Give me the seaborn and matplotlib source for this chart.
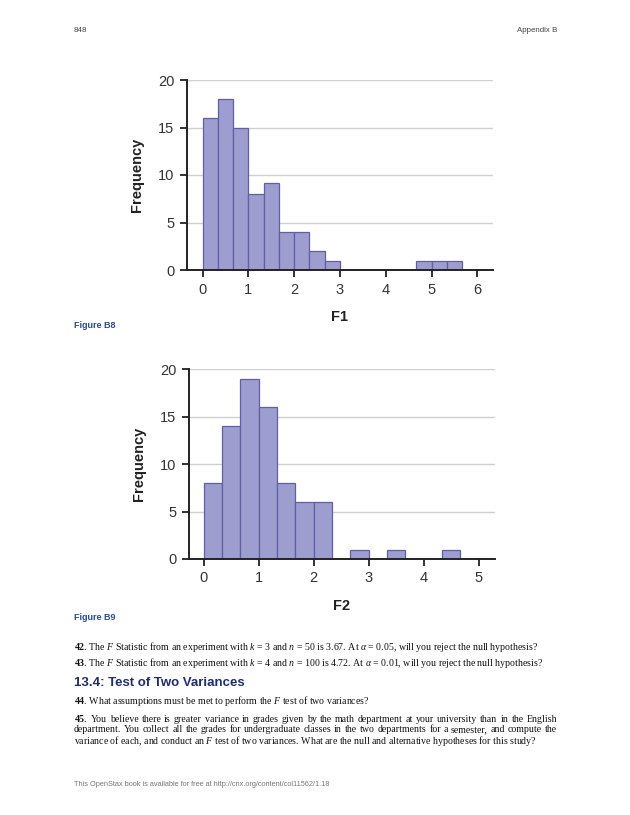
import numpy as np
import pandas as pd
import matplotlib
matplotlib.use("Agg")
import matplotlib.pyplot as plt
import seaborn as sns

# ---- data ----
bin_width = 1 / 3
f1_bin_starts = [0, 1/3, 2/3, 1, 4/3, 5/3, 2, 7/3, 8/3, 14/3, 5, 16/3]
f1_counts = [16, 18, 15, 8, 9.2, 4, 4, 2, 1, 1, 1, 1]
f2_bin_starts = [0, 1/3, 2/3, 1, 4/3, 5/3, 2, 8/3, 10/3, 13/3]
f2_counts = [8, 14, 19, 16, 8, 6, 6, 1, 1, 1]
y_ticks = [0, 5, 10, 15, 20]
f1_xticks = [0, 1, 2, 3, 4, 5, 6]
f2_xticks = [0, 1, 2, 3, 4, 5]

sns.set_theme(style="white")
plt.rcParams['font.family'] = ['Liberation Sans', 'DejaVu Sans']
plt.rcParams['mathtext.fontset'] = 'custom'
plt.rcParams['mathtext.rm'] = 'Liberation Serif'
plt.rcParams['mathtext.it'] = 'Liberation Serif:italic'
plt.rcParams['mathtext.bf'] = 'Liberation Serif:bold'

fig = plt.figure(figsize=(6.3, 8.15), dpi=100)
W, H = 630, 815

def px_axes(left, top, right, bottom):
    return fig.add_axes([left / W, 1 - bottom / H, (right - left) / W, (bottom - top) / H])

FILL = "#9d9dcf"
EDGE = "#5f5fa5"
TXT = "#333333"

def draw_hist(ax, starts, counts, xlim, xticks, xlabel):
    starts = np.asarray(starts, dtype=float)
    n_bins = int(round(max(starts) / bin_width)) + 1
    edges = [i * bin_width for i in range(n_bins + 1)]
    df = pd.DataFrame({"value": starts + bin_width / 2, "count": counts})
    sns.histplot(data=df, x="value", weights="count", bins=edges, ax=ax,
                 color=FILL, edgecolor=EDGE, linewidth=0.9, alpha=1, zorder=2)
    ax.set_xlim(*xlim)
    ax.set_ylim(0, 20)
    ax.set_yticks(y_ticks)
    ax.set_xticks(xticks)
    ax.yaxis.grid(True, color="#cfcfcf", linewidth=1.0, zorder=0)
    ax.set_axisbelow(True)
    for s in ["top", "right"]:
        ax.spines[s].set_visible(False)
    for s in ["left", "bottom"]:
        ax.spines[s].set_color("#222222")
        ax.spines[s].set_linewidth(1.4)
        ax.spines[s].set_zorder(3)
    ax.tick_params(axis="both", direction="out", length=5, width=1.3, color="#222222",
                   labelsize=10.5, labelcolor=TXT, pad=4, left=True, bottom=True)
    ax.set_ylabel("Frequency", fontsize=10.5, fontweight="bold", color="#222222", labelpad=10)
    ax.set_xlabel(xlabel, fontsize=10.5, fontweight="bold", color="#222222", labelpad=10)

ax1 = px_axes(187, 80, 493, 270)
draw_hist(ax1, f1_bin_starts, f1_counts, (-0.34, 6.34), f1_xticks, "F1")

ax2 = px_axes(189, 369, 495, 559)
draw_hist(ax2, f2_bin_starts, f2_counts, (-0.27, 5.3), f2_xticks, "F2")

def t(x, y, s, **kw):
    return fig.text(x / W, 1 - y / H, s, **kw)

renderer = fig.canvas.get_renderer()

def justify(x0, x1, y, words, **kw):
    objs = [t(x0, y, w, **kw) for w in words]
    widths = [o.get_window_extent(renderer).width for o in objs]
    gap = (x1 - x0 - sum(widths)) / (len(words) - 1)
    x = x0
    for o, wd in zip(objs, widths):
        o.set_x(x / W)
        x += wd + gap

t(74, 30, "848", fontsize=5.7, color="#444444", va="center")
t(557, 30, "Appendix B", fontsize=5.7, color="#444444", va="center", ha="right")
t(74, 326, "Figure B8", fontsize=6.5, color="#2b4a94", fontweight="bold", va="center")
t(74, 618, "Figure B9", fontsize=6.5, color="#2b4a94", fontweight="bold", va="center")

serif = dict(family="Liberation Serif", fontsize=7.1, color="#111111", va="baseline")
B = 2.5
t(74, 647 + B, r"$\mathbf{42}$. The $\mathit{F}$ Statistic from an experiment with $\mathit{k}$ = 3 and $\mathit{n}$ = 50 is 3.67. At $\mathit{\alpha}$ = 0.05, will you reject the null hypothesis?", **serif)
t(74, 664 + B, r"$\mathbf{43}$. The $\mathit{F}$ Statistic from an experiment with $\mathit{k}$ = 4 and $\mathit{n}$ = 100 is 4.72. At $\mathit{\alpha}$ = 0.01, will you reject the null hypothesis?", **serif)
t(74, 683, "13.4: Test of Two Variances", fontsize=9.5, color="#1f2d6e", fontweight="bold", va="center")
t(74, 702 + B, r"$\mathbf{44}$. What assumptions must be met to perform the $\mathit{F}$ test of two variances?", **serif)
justify(74, 557, 719 + B, (r"$\mathbf{45}$. You believe there is greater variance in grades given by the math department at your university than in the English").split(" "), **serif)
justify(74, 557, 730 + B, ("department. You collect all the grades for undergraduate classes in the two departments for a semester, and compute the").split(" "), **serif)
t(74, 741 + B, r"variance of each, and conduct an $\mathit{F}$ test of two variances. What are the null and alternative hypotheses for this study?", **serif)
t(74, 785, "This OpenStax book is available for free at http://cnx.org/content/col11562/1.18", fontsize=5.3, color="#777777", va="center")

fig.savefig("out.png", dpi=100, facecolor="white")
